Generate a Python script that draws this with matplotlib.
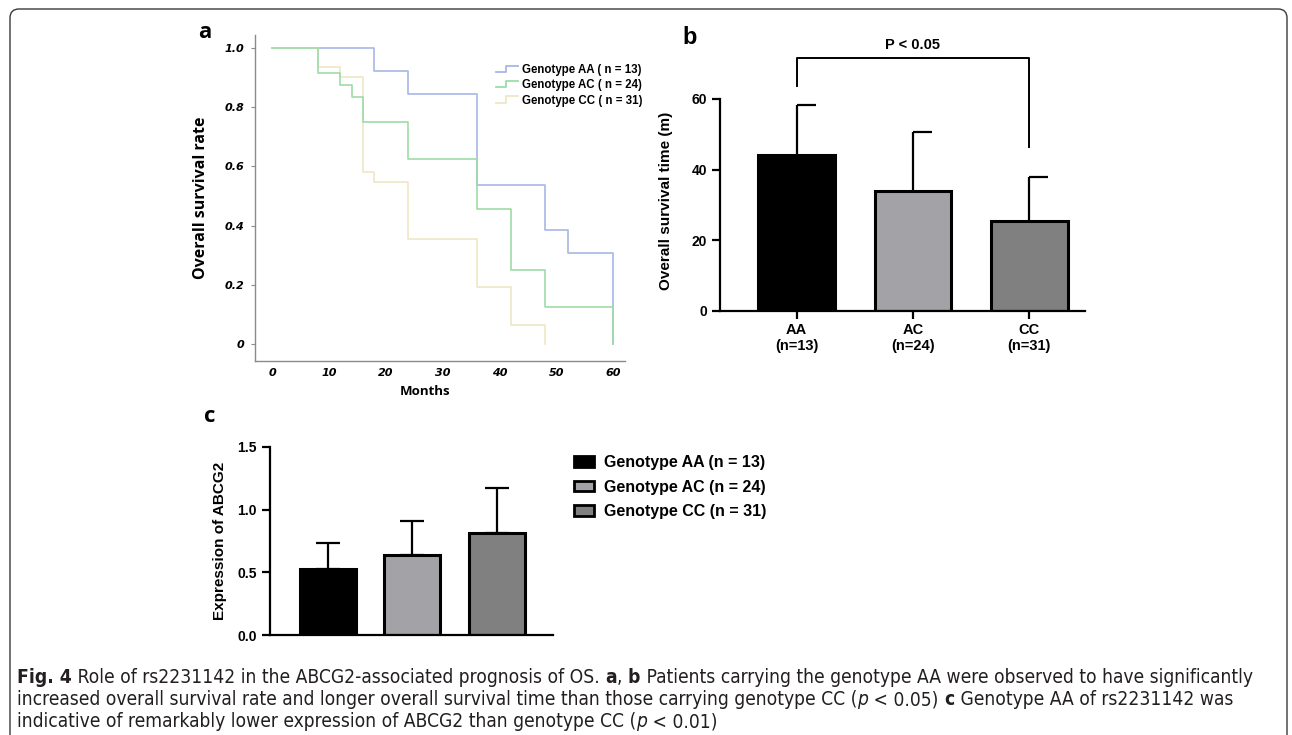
import matplotlib
matplotlib.use('Agg')
import numpy as np
import matplotlib.pyplot as plt
from matplotlib import font_manager
from matplotlib.lines import Line2D
from matplotlib.patches import Patch, FancyBboxPatch
from matplotlib.legend_handler import HandlerBase
from matplotlib.transforms import IdentityTransform

W, H = 1292, 735

# --- panel a: Kaplan-Meier steps (months, survival) ---
months_aa = [0, 18, 24, 36, 48, 52, 60]
surv_aa = [1.0, 0.923, 0.846, 0.538, 0.385, 0.308, 0.0]
months_ac = [0, 8, 12, 14, 16, 24, 36, 42, 48, 60]
surv_ac = [1.0, 0.917, 0.875, 0.833, 0.750, 0.625, 0.458, 0.250, 0.125, 0.0]
months_cc = [0, 8, 12, 16, 18, 24, 36, 42, 48]
surv_cc = [1.0, 0.935, 0.903, 0.581, 0.548, 0.355, 0.194, 0.065, 0.0]
km_labels = ['Genotype AA ( n = 13)', 'Genotype AC ( n = 24)', 'Genotype CC ( n = 31)']
km_colors = ['#a9b6e6', '#9edca6', '#efe6c6']

# --- panel b: overall survival time ---
genotypes = ['AA', 'AC', 'CC']
n_patients = [13, 24, 31]
os_mean = [44.1, 33.9, 25.5]
os_sd = [14.3, 16.7, 12.3]

# --- panel c: ABCG2 expression ---
expr_mean = [0.528, 0.637, 0.814]
expr_sd = [0.210, 0.273, 0.357]

bar_colors = ['#000000', '#a2a2a7', '#808080']

# caption font: a narrow sans if one is around, else plain Liberation Sans
fonts = font_manager.fontManager.ttflist
names = {f.name for f in fonts}
cap_stretch = 'normal'
if 'Liberation Sans Narrow' in names:
    cap_font = 'Liberation Sans Narrow'
elif any(f.name == 'DejaVu Sans' and f.stretch in ('condensed', 'semi-condensed') for f in fonts):
    cap_font, cap_stretch = 'DejaVu Sans', 'condensed'
else:
    cap_font = 'Liberation Sans'

fig = plt.figure(figsize=(W / 100, H / 100), dpi=100)


def px_axes(left, top, right, bottom):
    return fig.add_axes([left / W, 1 - bottom / H, (right - left) / W, (bottom - top) / H])


class StepHandler(HandlerBase):
    # legend key drawn as a little step, like the KM software does
    def create_artists(self, legend, orig_handle, xdescent, ydescent, width, height, fontsize, trans):
        xs = np.array([0, 0.45, 0.45, 1.0]) * width - xdescent
        ys = np.array([0.1, 0.1, 0.9, 0.9]) * height - ydescent
        line = Line2D(xs, ys, color=orig_handle.get_color(), lw=1.3, transform=trans)
        return [line]


# ---------------- panel a ----------------
ax_a = px_axes(255, 35, 625, 361)
for t, s, c, z in [(months_aa, surv_aa, km_colors[0], 1),
                   (months_cc, surv_cc, km_colors[2], 2),
                   (months_ac, surv_ac, km_colors[1], 3)]:
    ax_a.step(t, s, where='post', color=c, lw=1.2, zorder=z)
ax_a.set_xlim(-3, 62.1)
ax_a.set_ylim(-0.057, 1.044)
ax_a.set_xticks(range(0, 61, 10))
ax_a.set_yticks([0, 0.2, 0.4, 0.6, 0.8, 1.0])
ax_a.set_yticklabels(['0', '0.2', '0.4', '0.6', '0.8', '1.0'])
for sp in ['top', 'right']:
    ax_a.spines[sp].set_visible(False)
for sp in ['left', 'bottom']:
    ax_a.spines[sp].set_color('#8a8a8a')
    ax_a.spines[sp].set_linewidth(1.0)
ax_a.tick_params(axis='y', length=3, color='#8a8a8a', pad=5)
ax_a.tick_params(axis='x', length=0, pad=5)
for lab in ax_a.get_xticklabels() + ax_a.get_yticklabels():
    lab.set_fontfamily('DejaVu Sans')
    lab.set_fontweight('bold')
    lab.set_fontstyle('italic')
    lab.set_fontsize(8)
ax_a.set_xlabel('Months', fontfamily='Open Sans', fontweight='bold', fontsize=9.5)
ax_a.xaxis.set_label_coords(0.46, -0.075)
ax_a.set_ylabel('Overall survival rate', fontfamily='Open Sans', fontweight='bold', fontsize=11.5)
ax_a.yaxis.set_label_coords(-0.124, 0.5)

km_handles = [Line2D([], [], color=c) for c in km_colors]
fig.legend(km_handles, km_labels, loc='upper left', bbox_to_anchor=(490 / W, 1 - 58 / H),
           frameon=False, borderpad=0, handlelength=1.9, handletextpad=0.35, labelspacing=0.3,
           prop={'family': 'Liberation Sans', 'weight': 'bold', 'size': 8.3},
           handler_map={Line2D: StepHandler()})

# ---------------- panel b ----------------
x = np.arange(len(genotypes))
ax_b = px_axes(720, 99, 1085, 311)
ax_b.bar(x, os_mean, width=0.66, color=bar_colors, edgecolor='black', linewidth=2.2, zorder=2)
os_top = np.array(os_mean) + np.array(os_sd)
ax_b.vlines(x, os_mean, os_top, color='black', lw=1.6, zorder=1)
ax_b.hlines(os_top, x, x + 0.165, color='black', lw=1.6, zorder=1)
ax_b.set_xlim(-0.66, 2.48)
ax_b.set_ylim(0, 60)
ax_b.set_yticks([0, 20, 40, 60])
ax_b.set_xticks(x)
ax_b.set_xticklabels([f'{g}\n(n={n})' for g, n in zip(genotypes, n_patients)])
for sp in ['top', 'right']:
    ax_b.spines[sp].set_visible(False)
for sp in ['left', 'bottom']:
    ax_b.spines[sp].set_linewidth(1.6)
ax_b.tick_params(length=6, width=1.6)
ax_b.tick_params(axis='x', pad=3)
for lab in ax_b.get_yticklabels():
    lab.set_fontfamily('Liberation Sans')
    lab.set_fontweight('bold')
    lab.set_fontsize(10)
for lab in ax_b.get_xticklabels():
    lab.set_fontfamily('Liberation Sans')
    lab.set_fontweight('bold')
    lab.set_fontsize(10.5)
    lab.set_linespacing(1.15)
ax_b.set_ylabel('Overall survival time (m)', fontfamily='Liberation Sans', fontweight='bold', fontsize=11)
ax_b.yaxis.set_label_coords(-0.13, 0.52)

# significance bracket between AA and CC
ax_b.plot([x[0], x[0], x[2], x[2]], [63.8, 71.5, 71.5, 46.5], color='black', lw=1.4, clip_on=False)
ax_b.text(x[1], 75.4, 'P < 0.05', ha='center', va='center', fontfamily='Liberation Sans',
          fontweight='bold', fontsize=10.5)

# ---------------- panel c ----------------
ax_c = px_axes(270, 446.7, 553, 635.3)
ax_c.bar(x, expr_mean, width=0.66, color=bar_colors, edgecolor='black', linewidth=2.2, zorder=2)
ax_c.errorbar(x, expr_mean, yerr=[np.zeros(3), expr_sd], fmt='none', ecolor='black',
              elinewidth=1.6, capsize=8.6, capthick=1.6, zorder=1)
ax_c.set_xlim(-0.68, 2.66)
ax_c.set_ylim(0, 1.5)
ax_c.set_yticks([0, 0.5, 1.0, 1.5])
ax_c.set_yticklabels(['0.0', '0.5', '1.0', '1.5'])
ax_c.set_xticks([])
for sp in ['top', 'right']:
    ax_c.spines[sp].set_visible(False)
for sp in ['left', 'bottom']:
    ax_c.spines[sp].set_linewidth(1.6)
ax_c.tick_params(axis='y', length=6, width=1.6)
for lab in ax_c.get_yticklabels():
    lab.set_fontfamily('Liberation Sans')
    lab.set_fontweight('bold')
    lab.set_fontsize(10)
ax_c.set_ylabel('Expression of ABCG2', fontfamily='Liberation Sans', fontweight='bold', fontsize=11)
ax_c.yaxis.set_label_coords(-0.153, 0.5)

expr_handles = [Patch(facecolor=c, edgecolor='black', linewidth=2) for c in bar_colors]
expr_labels = [f'Genotype {g} (n = {n})' for g, n in zip(genotypes, n_patients)]
fig.legend(expr_handles, expr_labels, loc='upper left', bbox_to_anchor=(566 / W, 1 - 447 / H),
           frameon=False, borderpad=0, handlelength=1.25, handleheight=0.65, handletextpad=0.6,
           labelspacing=0.6, prop={'family': 'Liberation Sans', 'weight': 'bold', 'size': 11.5})

# panel letters
fig.text(205 / W, 1 - 33 / H, 'a', fontsize=16, fontweight='bold', fontfamily='Open Sans', ha='center', va='center')
fig.text(690 / W, 1 - 38 / H, 'b', fontsize=17, fontweight='bold', fontfamily='Liberation Sans', ha='center', va='center')
fig.text(210 / W, 1 - 417 / H, 'c', fontsize=16, fontweight='bold', fontfamily='Open Sans', ha='center', va='center')

# ---------------- caption ----------------
B = {'fontweight': 'bold'}
N = {}
I = {'fontstyle': 'italic'}
caption = [
    [('Fig. 4', B), (' Role of rs2231142 in the ABCG2-associated prognosis of OS.', N), (' a', B), (',', N),
     (' b', B), (' Patients carrying the genotype AA were observed to have significantly', N)],
    [('increased overall survival rate and longer overall survival time than those carrying genotype CC (', N),
     ('p', I), (' < 0.05)', N), (' c', B), (' Genotype AA of rs2231142 was', N)],
    [('indicative of remarkably lower expression of ABCG2 than genotype CC (', N), ('p', I), (' < 0.01)', N)],
]
baselines = [683, 705, 727]
renderer = fig.canvas.get_renderer()


def draw_caption(size):
    texts = []
    ends = []
    for parts, yb in zip(caption, baselines):
        xp = 17
        for s, st in parts:
            t = fig.text(xp / W, 1 - yb / H, s, fontsize=size, fontfamily=cap_font, fontstretch=cap_stretch,
                         color='#231f20', ha='left', va='baseline', **st)
            xp += t.get_window_extent(renderer).width
            texts.append(t)
        ends.append(xp)
    return texts, ends


texts, ends = draw_caption(12)
size = min(14, 12 * (1257 - 17) / (ends[0] - 17))
for t in texts:
    t.remove()
draw_caption(size)

# rounded frame around the figure
frame = FancyBboxPatch((10, -10), 1277, 736, boxstyle='round,pad=0,rounding_size=9',
                       transform=IdentityTransform(), facecolor='none', edgecolor='#3a3a3a', lw=1.0)
fig.add_artist(frame)

fig.savefig('out.png', dpi=100)
